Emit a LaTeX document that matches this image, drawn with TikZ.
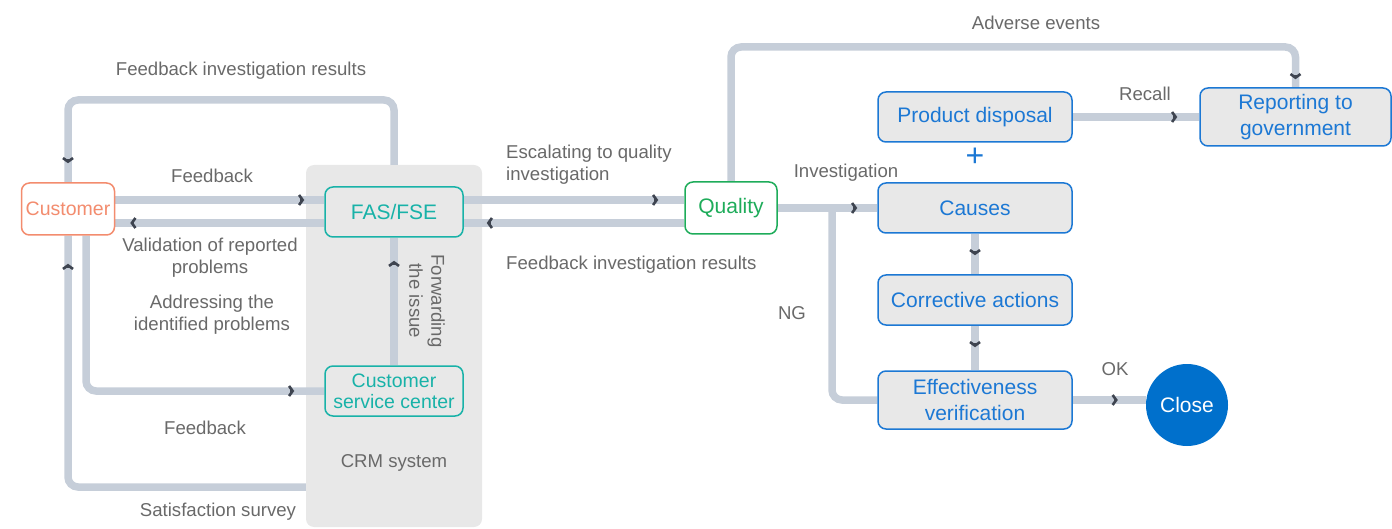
\documentclass[tikz,border=0pt]{standalone}
\usepackage{fontspec}
\setmainfont{Liberation Sans}
\usetikzlibrary{arrows.meta,decorations.markings,calc}
\definecolor{linec}{RGB}{198,206,217}
\definecolor{chevc}{RGB}{62,68,80}
\definecolor{labc}{RGB}{105,105,105}
\definecolor{panelc}{RGB}{232,232,232}
\definecolor{orangec}{RGB}{243,140,110}
\definecolor{tealc}{RGB}{24,178,168}
\definecolor{greenc}{RGB}{30,172,90}
\definecolor{bluec}{RGB}{28,120,212}
\definecolor{closec}{RGB}{0,112,204}
\pgfdeclarelayer{panel}
\pgfdeclarelayer{lines}
\pgfsetlayers{panel,lines,main}
\tikzset{
  conn/.style={draw=linec,line width=7.5pt,rounded corners=10pt},
  chev/.style={postaction={decorate,decoration={markings,
     mark=at position #1 with {\draw[chevc,line width=2.6pt,-{Straight Barb[length=3.6pt,width=10pt]}] (-4pt,0) -- (0,0);}}}},
  lab/.style={text=labc,font=\fontsize{18.6}{22}\selectfont,inner sep=0pt,align=center},
  boxbase/.style={rectangle,rounded corners=8pt,line width=1.5pt,font=\fontsize{21}{21}\selectfont,align=center,inner sep=0pt},
  custbox/.style={boxbase,draw=orangec,fill=white,text=orangec,minimum width=93pt,minimum height=52pt,font=\fontsize{19.5}{21}\selectfont},
  tealbox/.style={boxbase,draw=tealc,fill=panelc,text=tealc,minimum width=138pt,minimum height=50pt},
  qualbox/.style={boxbase,draw=greenc,fill=white,text=greenc,minimum width=92pt,minimum height=52pt},
  bluebox/.style={boxbase,draw=bluec,fill=panelc,text=bluec,minimum width=194pt,minimum height=50pt,font=\fontsize{21}{26}\selectfont},
}
\begin{document}
\begin{tikzpicture}[x=1pt,y=-1pt]
\useasboundingbox (0,0) rectangle (1392,529);
% panel
\begin{pgfonlayer}{panel}
\node[fill=panelc,rounded corners=8pt,minimum width=176pt,minimum height=362pt,inner sep=0pt] (crm) at (394,346) {};
\end{pgfonlayer}
\node[lab] (crmlab) at (394,463) {CRM system};
% nodes
\node[custbox] (cust) at (68,209) {Customer};
\node[tealbox] (fas) at (394,212) {FAS/FSE};
\node[tealbox,font=\fontsize{19.5}{21}\selectfont] (csc) at (394,391) {Customer\\service center};
\node[qualbox] (qual) at (731,208) {Quality};
\node[bluebox] (pd) at (975,117) {Product disposal};
\node[bluebox,minimum width=191pt,minimum height=58pt] (rep) at (1295.5,117) {Reporting to\\government};
\node[text=bluec,font=\fontsize{32}{32}\selectfont,inner sep=0pt] (plus) at (975,157) {+};
\node[bluebox] (causes) at (975,208) {Causes};
\node[bluebox] (corr) at (975,300) {Corrective actions};
\node[bluebox,minimum height=58pt] (eff) at (975,400) {Effectiveness\\verification};
\node[circle,fill=closec,text=white,minimum size=82pt,inner sep=0pt,font=\fontsize{21}{24}\selectfont] (close) at (1187,405) {Close};
% named free ends
\coordinate (satend) at (crm.west |- 0,487);
\coordinate (ngjoin) at (832,208);
% connectors
\begin{pgfonlayer}{lines}
\draw[conn,chev=-20pt] (cust.east |- 0,200) -- (fas.west |- 0,200);
\draw[conn,chev=-15pt] (fas.west |- 0,223) -- (cust.east |- 0,223);
\draw[conn,chev=-19pt] (crm.north) |- (cust.north |- 0,100) -- (cust.north);
\draw[conn,chev=-28pt] (satend) -| (cust.south);
\draw[conn,chev=-30pt] ($(cust.south)+(18,0)$) |- (csc.west);
\draw[conn,chev=-23pt] (csc.north) -- (fas.south);
\draw[conn,chev=-26pt] (fas.east |- 0,200) -- (qual.west |- 0,200);
\draw[conn,chev=-23pt] (qual.west |- 0,223) -- (fas.east |- 0,223);
\draw[conn,chev=-20pt] (qual.east) -- (causes.west);
\draw[conn] (eff.west) -| (ngjoin);
\draw[conn,chev=-8pt] (qual.north) |- (rep.north |- 0,47) -- (rep.north);
\draw[conn,chev=-22pt] (pd.east) -- (rep.west |- pd.east);
\draw[conn,chev=-19pt] (causes.south) -- (corr.north);
\draw[conn,chev=-23pt] (corr.south) -- (eff.north);
\draw[conn,chev=-28pt] (eff.east) -- (eff.east -| close.west);
\end{pgfonlayer}
% labels
\node[lab] (l1) at (241,71) {Feedback investigation results};
\node[lab] (l2) at (212,176) {Feedback};
\node[lab] (l3) at (210,258) {Validation of reported\\problems};
\node[lab] (l4) at (212,315) {Addressing the\\identified problems};
\node[lab] (l5) at (205,428) {Feedback};
\node[lab] (l6) at (218,512) {Satisfaction survey};
\node[lab,rotate=-90] (l7) at (427,301) {Forwarding\\the issue};
\node[lab,align=left,anchor=west] (l8) at (506,165) {Escalating to quality\\investigation};
\node[lab,anchor=west] (l9) at (506,265) {Feedback investigation results};
\node[lab] (l10) at (846,173) {Investigation};
\node[lab] (l11) at (792,313) {NG};
\node[lab] (l12) at (1115,369) {OK};
\node[lab] (l13) at (1145,94) {Recall};
\node[lab] (l14) at (1036,23) {Adverse events};
\end{tikzpicture}
\end{document}
